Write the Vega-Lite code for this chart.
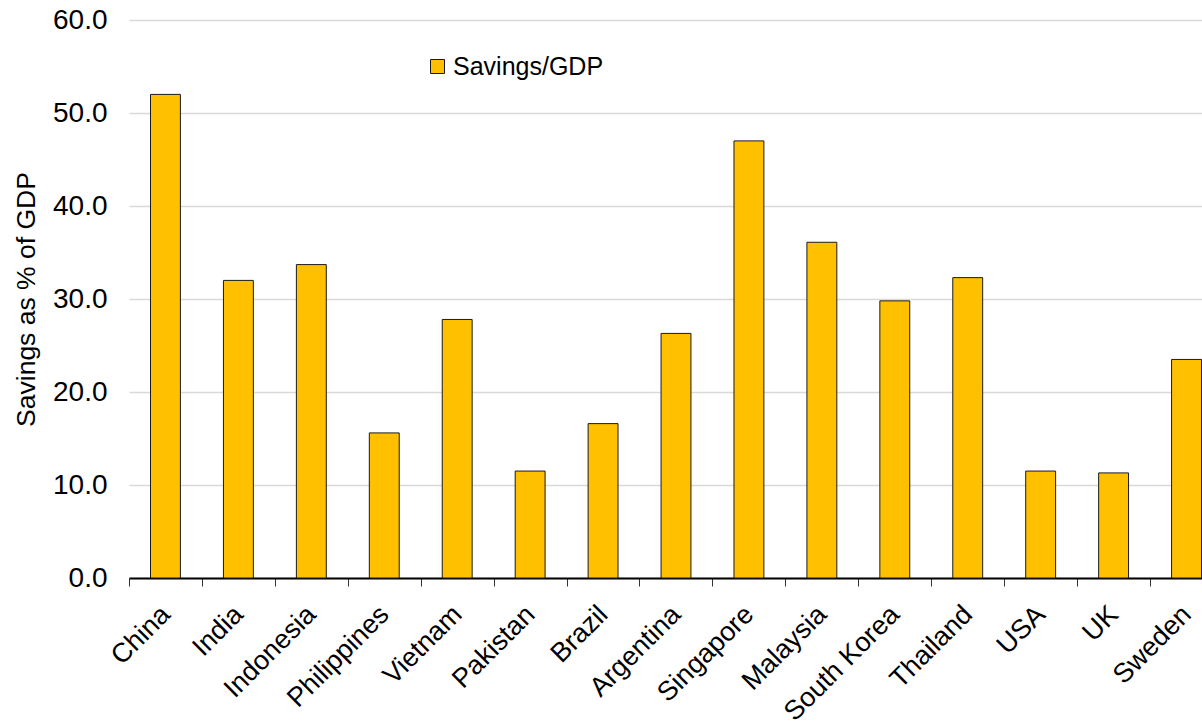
{
  "$schema": "https://vega.github.io/schema/vega-lite/v6.json",
  "autosize": {"type": "none"},
  "padding": {"left": 129, "top": 20, "right": 0, "bottom": 144},
  "width": 1073,
  "height": 558,
  "background": "white",
  "config": {
    "font": "Liberation Sans",
    "view": {"stroke": null}
  },
  "data": {
    "values": [
      {"country": "China", "savings": 52.0},
      {"country": "India", "savings": 32.0},
      {"country": "Indonesia", "savings": 33.7},
      {"country": "Philippines", "savings": 15.6},
      {"country": "Vietnam", "savings": 27.8},
      {"country": "Pakistan", "savings": 11.5},
      {"country": "Brazil", "savings": 16.6},
      {"country": "Argentina", "savings": 26.3},
      {"country": "Singapore", "savings": 47.0},
      {"country": "Malaysia", "savings": 36.1},
      {"country": "South Korea", "savings": 29.8},
      {"country": "Thailand", "savings": 32.3},
      {"country": "USA", "savings": 11.5},
      {"country": "UK", "savings": 11.3},
      {"country": "Sweden", "savings": 23.5}
    ]
  },
  "mark": {"type": "bar", "stroke": "#1a1a1a", "strokeWidth": 1},
  "encoding": {
    "x": {
      "field": "country",
      "type": "nominal",
      "sort": null,
      "title": null,
      "scale": {"range": [0, 1094], "paddingInner": 0.59, "paddingOuter": 0.295},
      "axis": {
        "ticks": true,
        "tickOffset": -36.5,
        "labelOffset": 36.5,
        "domainColor": "#000000",
        "domainWidth": 2,
        "tickColor": "#333333",
        "tickSize": 8,
        "tickWidth": 1,
        "labelAngle": -45,
        "labelAlign": "right",
        "labelBaseline": "middle",
        "labelFontSize": 27,
        "labelColor": "#000000",
        "labelPadding": 24,
        "grid": false
      }
    },
    "y": {
      "field": "savings",
      "type": "quantitative",
      "title": "Savings as % of GDP",
      "scale": {"domain": [0, 60], "nice": false},
      "axis": {
        "values": [0, 10, 20, 30, 40, 50, 60],
        "format": ".1f",
        "domain": false,
        "ticks": false,
        "grid": true,
        "gridColor": "#d9d9d9",
        "gridWidth": 1.5,
        "labelFontSize": 28,
        "labelColor": "#000000",
        "labelPadding": 22,
        "titleFontSize": 26.5,
        "titleFontWeight": "normal",
        "titleColor": "#000000",
        "titlePadding": 12
      }
    },
    "color": {
      "datum": "Savings/GDP",
      "type": "nominal",
      "scale": {"range": ["#FFC000"]},
      "legend": {
        "title": null,
        "orient": "none",
        "legendX": 296,
        "legendY": 34,
        "symbolType": "square",
        "symbolSize": 196,
        "symbolStrokeColor": "#1a1a1a",
        "symbolStrokeWidth": 1,
        "symbolOpacity": 1,
        "labelFontSize": 25,
        "labelColor": "#000000",
        "labelOffset": 3
      }
    }
  }
}
